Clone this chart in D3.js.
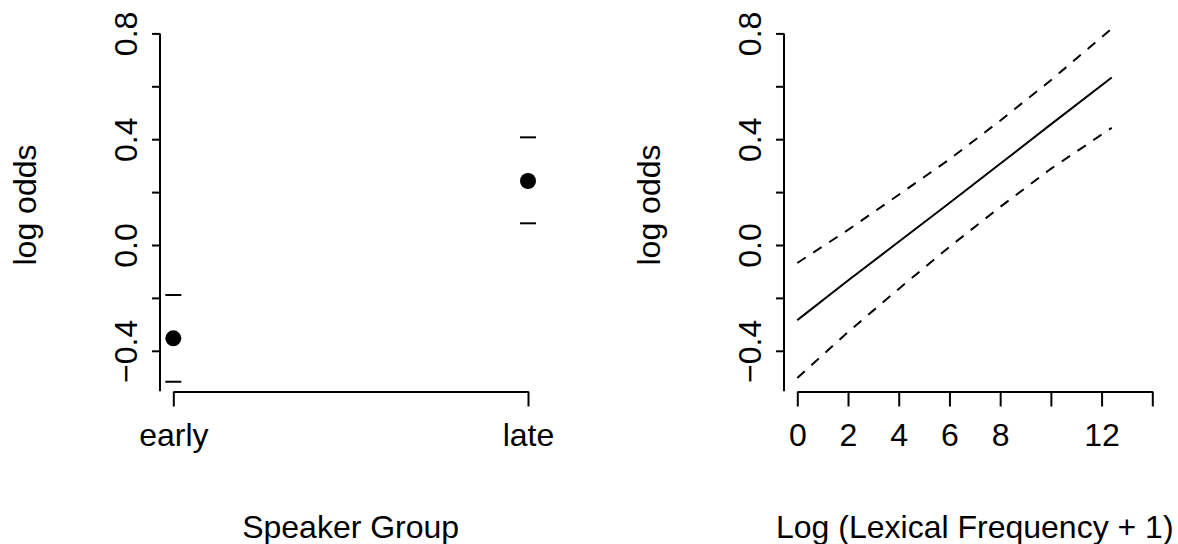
<!DOCTYPE html>
<html>
<head>
<meta charset="utf-8">
<script src="https://cdn.jsdelivr.net/npm/d3@7"></script>
<style>
  html, body { margin: 0; padding: 0; background: #fff; }
  svg { display: block; }
  text { font-family: "Liberation Sans", Arial, Helvetica, sans-serif; fill: #000; }
</style>
</head>
<body>
<svg id="chart" width="1178" height="544"></svg>
<script>
// ---- Data ----
const groups = ["early", "late"];
const groupEstimate = [-0.353, 0.242];
const groupUpper = [-0.189, 0.407];
const groupLower = [-0.517, 0.082];

const freqX = [0, 2, 4, 6, 8, 10, 12.4];
const freqFit = [-0.284, -0.134, 0.012, 0.159, 0.307, 0.456, 0.633];
const freqUpper = [-0.068, 0.057, 0.19, 0.324, 0.47, 0.623, 0.818];
const freqLower = [-0.503, -0.329, -0.166, -0.007, 0.144, 0.288, 0.443];

const yTicks = [-0.4, -0.2, 0, 0.2, 0.4, 0.6, 0.8];
const yTickLabels = ["\u22120.4", "", "0.0", "", "0.4", "", "0.8"];
const xFreqTicks = [0, 2, 4, 6, 8, 10, 12, 14];
const xFreqTickLabels = ["0", "2", "4", "6", "8", "", "12", ""];

const yTitle = "log odds";
const xTitleLeft = "Speaker Group";
const xTitleRight = "Log (Lexical Frequency + 1)";

// ---- Layout ----
const svg = d3.select("#chart");
const FS = 32;
const axisBottomY = 391.5;

const y = d3.scaleLinear().domain([-0.4, 0.8]).range([350.8, 33.4]);
const yBottom = -0.553; // where the vertical axis line ends

function drawYAxis(g, x0) {
  const ax = d3.axisLeft(y)
    .tickValues(yTicks)
    .tickSize(8)
    .tickFormat((d, i) => yTickLabels[i]);
  const a = g.append("g").attr("transform", `translate(${x0},0)`).call(ax);
  a.select(".domain").remove();
  a.append("line")
    .attr("x1", 0).attr("x2", 0)
    .attr("y1", y(0.8)).attr("y2", y(yBottom))
    .attr("stroke", "#000").attr("stroke-width", 2);
  a.selectAll(".tick line").attr("stroke", "#000").attr("stroke-width", 2);
  a.selectAll(".tick text")
    .attr("transform", "rotate(-90)")
    .attr("x", 0).attr("y", -23).attr("dy", 0)
    .attr("text-anchor", "middle")
    .style("font-size", FS + "px")
    .style("font-family", '"Liberation Sans", Arial, sans-serif');
  return a;
}

function styleBottomAxis(a) {
  a.select(".domain").attr("stroke", "#000").attr("stroke-width", 2);
  a.selectAll(".tick line").attr("stroke", "#000").attr("stroke-width", 2);
  a.selectAll(".tick text")
    .attr("y", 54).attr("dy", 0)
    .style("font-size", FS + "px")
    .style("font-family", '"Liberation Sans", Arial, sans-serif');
}

// ---- Left panel ----
const left = svg.append("g");
const xCat = d3.scalePoint().domain(groups).range([173.3, 528]);

drawYAxis(left, 160);

const axL = d3.axisBottom(xCat).tickSize(15).tickSizeOuter(0);
const axLg = left.append("g").attr("transform", `translate(0,${axisBottomY})`).call(axL);
styleBottomAxis(axLg);

groups.forEach((gname, i) => {
  const cx = xCat(gname);
  left.append("circle")
    .attr("cx", cx).attr("cy", y(groupEstimate[i])).attr("r", 8)
    .attr("fill", "#000");
  [groupUpper[i], groupLower[i]].forEach(v => {
    left.append("line")
      .attr("x1", cx - 8).attr("x2", cx + 8)
      .attr("y1", y(v)).attr("y2", y(v))
      .attr("stroke", "#000").attr("stroke-width", 2);
  });
});

left.append("text")
  .attr("transform", `translate(36,205) rotate(-90)`)
  .attr("text-anchor", "middle")
  .style("font-size", FS + "px")
  .text(yTitle);

left.append("text")
  .attr("x", (xCat("early") + xCat("late")) / 2).attr("y", 538)
  .attr("text-anchor", "middle")
  .style("font-size", FS + "px")
  .text(xTitleLeft);

// ---- Right panel ----
const right = svg.append("g");
const xF = d3.scaleLinear().domain([0, 14]).range([797.3, 1152.3]);

drawYAxis(right, 784);

const axR = d3.axisBottom(xF)
  .tickValues(xFreqTicks)
  .tickSize(15).tickSizeOuter(0)
  .tickFormat((d, i) => xFreqTickLabels[i]);
const axRg = right.append("g").attr("transform", `translate(0,${axisBottomY})`).call(axR);
styleBottomAxis(axRg);

const line = d3.line().x(d => xF(d[0])).y(d => y(d[1]));
const fitPts = freqX.map((x, i) => [x, freqFit[i]]);
const upPts = freqX.map((x, i) => [x, freqUpper[i]]);
const loPts = freqX.map((x, i) => [x, freqLower[i]]);

right.append("path").attr("d", line(fitPts))
  .attr("fill", "none").attr("stroke", "#000").attr("stroke-width", 2);
[upPts, loPts].forEach(pts => {
  right.append("path").attr("d", line(pts))
    .attr("fill", "none").attr("stroke", "#000").attr("stroke-width", 2)
    .attr("stroke-dasharray", "10,9");
});

right.append("text")
  .attr("transform", `translate(660,205) rotate(-90)`)
  .attr("text-anchor", "middle")
  .style("font-size", FS + "px")
  .text(yTitle);

right.append("text")
  .attr("x", (xF(0) + xF(14)) / 2).attr("y", 538)
  .attr("text-anchor", "middle")
  .style("font-size", FS + "px")
  .text(xTitleRight);
</script>
</body>
</html>
